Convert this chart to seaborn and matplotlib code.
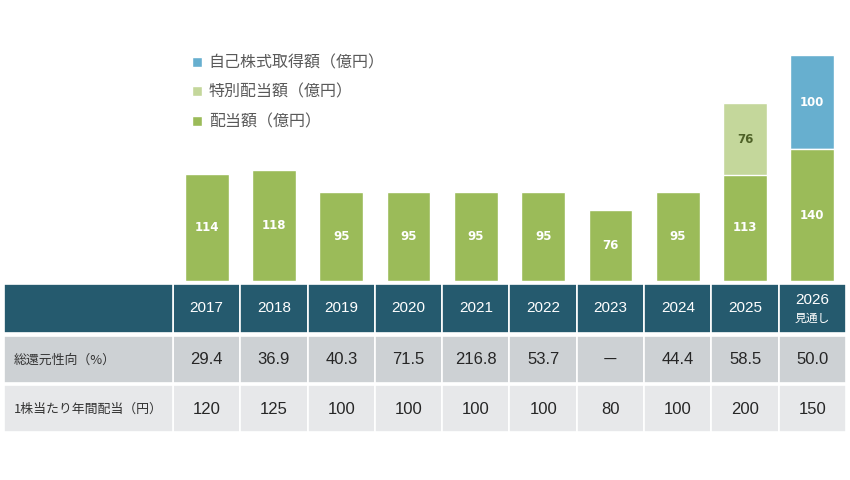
import numpy as np
import pandas as pd
import matplotlib.pyplot as plt
import seaborn as sns
from matplotlib.patches import Patch

# データ（億円）
years = ['2017', '2018', '2019', '2020', '2021', '2022', '2023', '2024', '2025', '2026']
header_labels = ['2017', '2018', '2019', '2020', '2021', '2022', '2023', '2024', '2025', '2026\n見通し']
dividend = [114, 118, 95, 95, 95, 95, 76, 95, 113, 140]
special_dividend = [0, 0, 0, 0, 0, 0, 0, 0, 76, 0]
buyback = [0, 0, 0, 0, 0, 0, 0, 0, 0, 100]
payout_ratio = ['29.4', '36.9', '40.3', '71.5', '216.8', '53.7', '－', '44.4', '58.5', '50.0']
dps = ['120', '125', '100', '100', '100', '100', '80', '100', '200', '150']
row_labels = ['総還元性向（%）', '1株当たり年間配当（円）']
legend_labels = ['自己株式取得額（億円）', '特別配当額（億円）', '配当額（億円）']

C_DIV = '#9bbb59'
C_SPEC = '#c4d79b'
C_BUY = '#67afcf'
C_HEAD = '#255a6e'
C_ROW1 = '#cdd1d4'
C_ROW2 = '#e7e8ea'

sns.set_theme(style='white')
plt.rcParams['font.family'] = ['Liberation Sans', 'Noto Sans CJK JP', 'DejaVu Sans']

df = pd.DataFrame({'year': years, 'dividend': dividend,
                   'special': special_dividend, 'buyback': buyback})
df['div_spec'] = df['dividend'] + df['special']
df['total'] = df['div_spec'] + df['buyback']

W, H = 850, 480
fig = plt.figure(figsize=(W / 100, H / 100), dpi=100)

# --- 棒グラフ ---
base_px, left_px, right_px = 281, 173, 846
ax = fig.add_axes([left_px / W, (H - base_px) / H, (right_px - left_px) / W, base_px / H])
bar_kw = dict(x='year', order=years, width=0.65, edgecolor='white', linewidth=1,
              saturation=1, ax=ax)
sns.barplot(data=df, y='total', color=C_BUY, **bar_kw)
sns.barplot(data=df, y='div_spec', color=C_SPEC, **bar_kw)
sns.barplot(data=df, y='dividend', color=C_DIV, **bar_kw)

ax.set_xlim(-0.5, 9.5)
ax.set_ylim(0, base_px / 0.94)
ax.set_axis_off()

lab_kw = dict(ha='center', va='center', fontsize=8.5, fontweight='bold', family='DejaVu Sans')
for i, row in df.iterrows():
    ax.text(i, row['dividend'] / 2, str(row['dividend']), color='white', **lab_kw)
    if row['special'] > 0:
        ax.text(i, row['dividend'] + row['special'] / 2, str(row['special']),
                color='#4f6228', **lab_kw)
    if row['buyback'] > 0:
        ax.text(i, row['div_spec'] + row['buyback'] / 2, str(row['buyback']),
                color='white', **lab_kw)

handles = [Patch(facecolor=C_BUY), Patch(facecolor=C_SPEC), Patch(facecolor=C_DIV)]
fig.legend(handles, legend_labels, loc='upper left', bbox_to_anchor=(192 / W, 1 - 55 / H),
           frameon=False, fontsize=11.5, handlelength=0.6, handleheight=0.6,
           handletextpad=0.45, labelspacing=0.9, labelcolor='#595959',
           borderaxespad=0, borderpad=0)

# --- 表 ---
tab_left, tab_top, tab_bottom = 4, 284, 432
col_w = (right_px - left_px) / 10
tx = fig.add_axes([tab_left / W, (H - tab_bottom) / H, (right_px - tab_left) / W,
                   (tab_bottom - tab_top) / H])
label_w = (left_px - tab_left) / col_w
tx.set_xlim(-0.5 - label_w, 9.5)
tx.set_ylim(tab_bottom - tab_top, 0)
tx.set_axis_off()

rows = [(0, 49, C_HEAD), (52, 47, C_ROW1), (101, 47, C_ROW2)]
xs = np.arange(len(years))
for top, h, c in rows:
    tx.bar(xs, h, bottom=top, width=1, color=c, edgecolor='white', linewidth=1.2)
    tx.bar(-0.5 - label_w / 2, h, bottom=top, width=label_w, color=c,
           edgecolor='white', linewidth=1.2)

for i, lab in enumerate(header_labels):
    if '\n' in lab:
        y1, y2 = lab.split('\n')
        tx.text(i, 16, y1, ha='center', va='center', color='white', fontsize=11)
        tx.text(i, 34, y2, ha='center', va='center', color='white', fontsize=8.5,
                family=['Noto Sans CJK JP', 'DejaVu Sans'])
    else:
        tx.text(i, 24.5, lab, ha='center', va='center', color='white', fontsize=11)

for i, (p, d) in enumerate(zip(payout_ratio, dps)):
    tx.text(i, 76, p, ha='center', va='center', color='#262626', fontsize=12)
    tx.text(i, 125, d, ha='center', va='center', color='#262626', fontsize=12)

lx = -0.5 - label_w + 10 / col_w
for y, lab in zip([76, 125], row_labels):
    tx.text(lx, y, lab, ha='left', va='center', color='#333333', fontsize=9.3,
            family=['Noto Sans CJK JP', 'DejaVu Sans'])

fig.savefig('out.png', dpi=100, facecolor='white')
